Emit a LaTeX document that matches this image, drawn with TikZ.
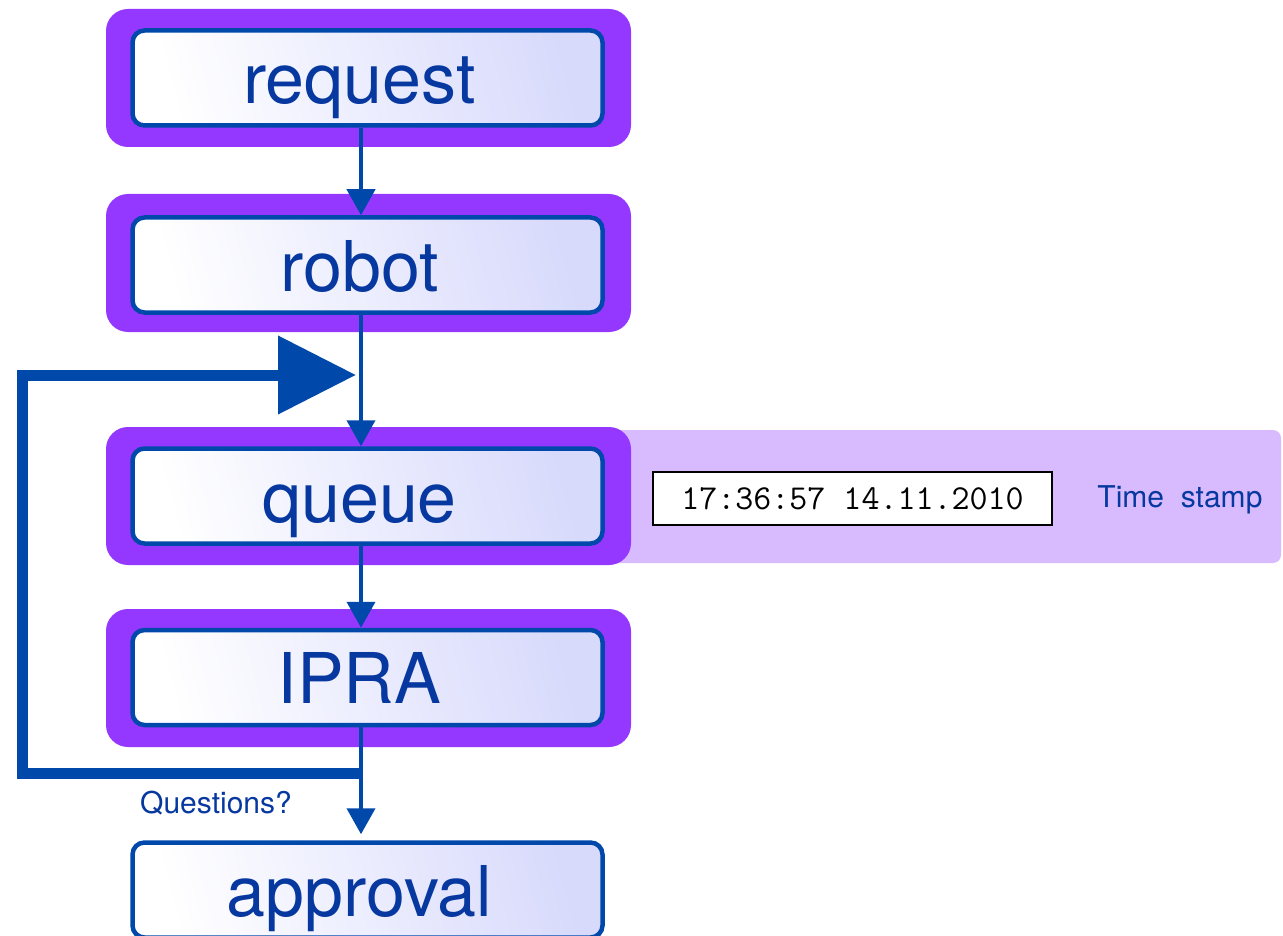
\documentclass[tikz,border=0pt]{standalone}
\usepackage{fontspec}
\setmainfont{TeX Gyre Heros}
\usetikzlibrary{arrows.meta}

\definecolor{framepurple}{RGB}{148,55,255}
\definecolor{bandlilac}{RGB}{216,187,255}
\definecolor{edgeblue}{RGB}{0,73,170}
\definecolor{textblue}{RGB}{6,56,160}
\definecolor{shadeend}{RGB}{216,218,252}

\tikzset{
  framebox/.style={fill=framepurple, rounded corners=22pt, minimum width=525pt,
    minimum height=138pt, inner sep=0pt},
  stagebox/.style={draw=edgeblue, line width=4.5pt, rounded corners=12pt,
    left color=white, right color=shadeend, shading angle=105,
    minimum width=470pt, minimum height=95pt, inner sep=0pt,
    text=textblue, font=\fontsize{70}{84}\selectfont,
    text height=52pt, text depth=0pt,
    execute at begin node=\kern-16pt},
  flow/.style={draw=edgeblue, line width=4pt,
    -{Triangle[length=26pt,width=28pt]}},
  backloop/.style={draw=edgeblue, line width=11pt, line join=miter,
    -{Triangle[length=78pt,width=76pt]}},
  smalllabel/.style={text=textblue, inner sep=0pt,
    font=\fontsize{30}{36}\selectfont},
  stampbox/.style={draw=black, fill=white, line width=2.5pt,
    minimum width=399pt, minimum height=53pt, inner sep=0pt,
    font=\fontsize{35}{40}\selectfont\ttfamily}
}

\begin{document}
\begin{tikzpicture}[x=1pt,y=-1pt]
  \useasboundingbox (0,0) rectangle (1283,936);
  \clip (0,0) rectangle (1283,936);

  % lilac band behind the queue stage
  \fill[bandlilac, rounded corners=8pt] (560,430) rectangle (1281,563);

  % purple frames
  \node[framebox] (requestframe) at (368.5,78) {};
  \node[framebox] (robotframe)   at (368.5,263) {};
  \node[framebox] (queueframe)   at (368.5,496) {};
  \node[framebox] (ipraframe)    at (368.5,678) {};

  % stages
  \node[stagebox] (request)  at (367.5,78)  {request};
  \node[stagebox] (robot)    at (367.5,265) {robot};
  \node[stagebox] (queue)    at (367.5,496) {queue};
  \node[stagebox] (ipra)     at (367.5,677.5) {IPRA};
  \node[stagebox] (approval) at (367.5,890) {approval};

  % time stamp
  \node[stampbox] (stamp) at (852.5,498.5) {17:36:57 14.11.2010};
  \node[smalllabel] (stamplabel) at (1180,500) {Time~~stamp};

  % main flow
  \coordinate (spine) at (361,0);
  \draw[flow] (request.south -| spine) -- (robot.north -| spine);
  \draw[flow] (robot.south -| spine) -- (queue.north -| spine);
  \draw[flow] (queue.south -| spine) -- (ipra.north -| spine);
  \draw[flow, shorten >=6pt] (ipra.south -| spine) -- (approval.north -| spine);

  % feedback loop
  \coordinate (fb) at (361,773);
  \coordinate (loopcorner) at (22,375);
  \coordinate (loopin) at (356,375);
  \draw[backloop] (fb) -| (loopcorner) -- (loopin);

  \node[smalllabel] (questions) at (216,803) {Questions?};
\end{tikzpicture}
\end{document}
